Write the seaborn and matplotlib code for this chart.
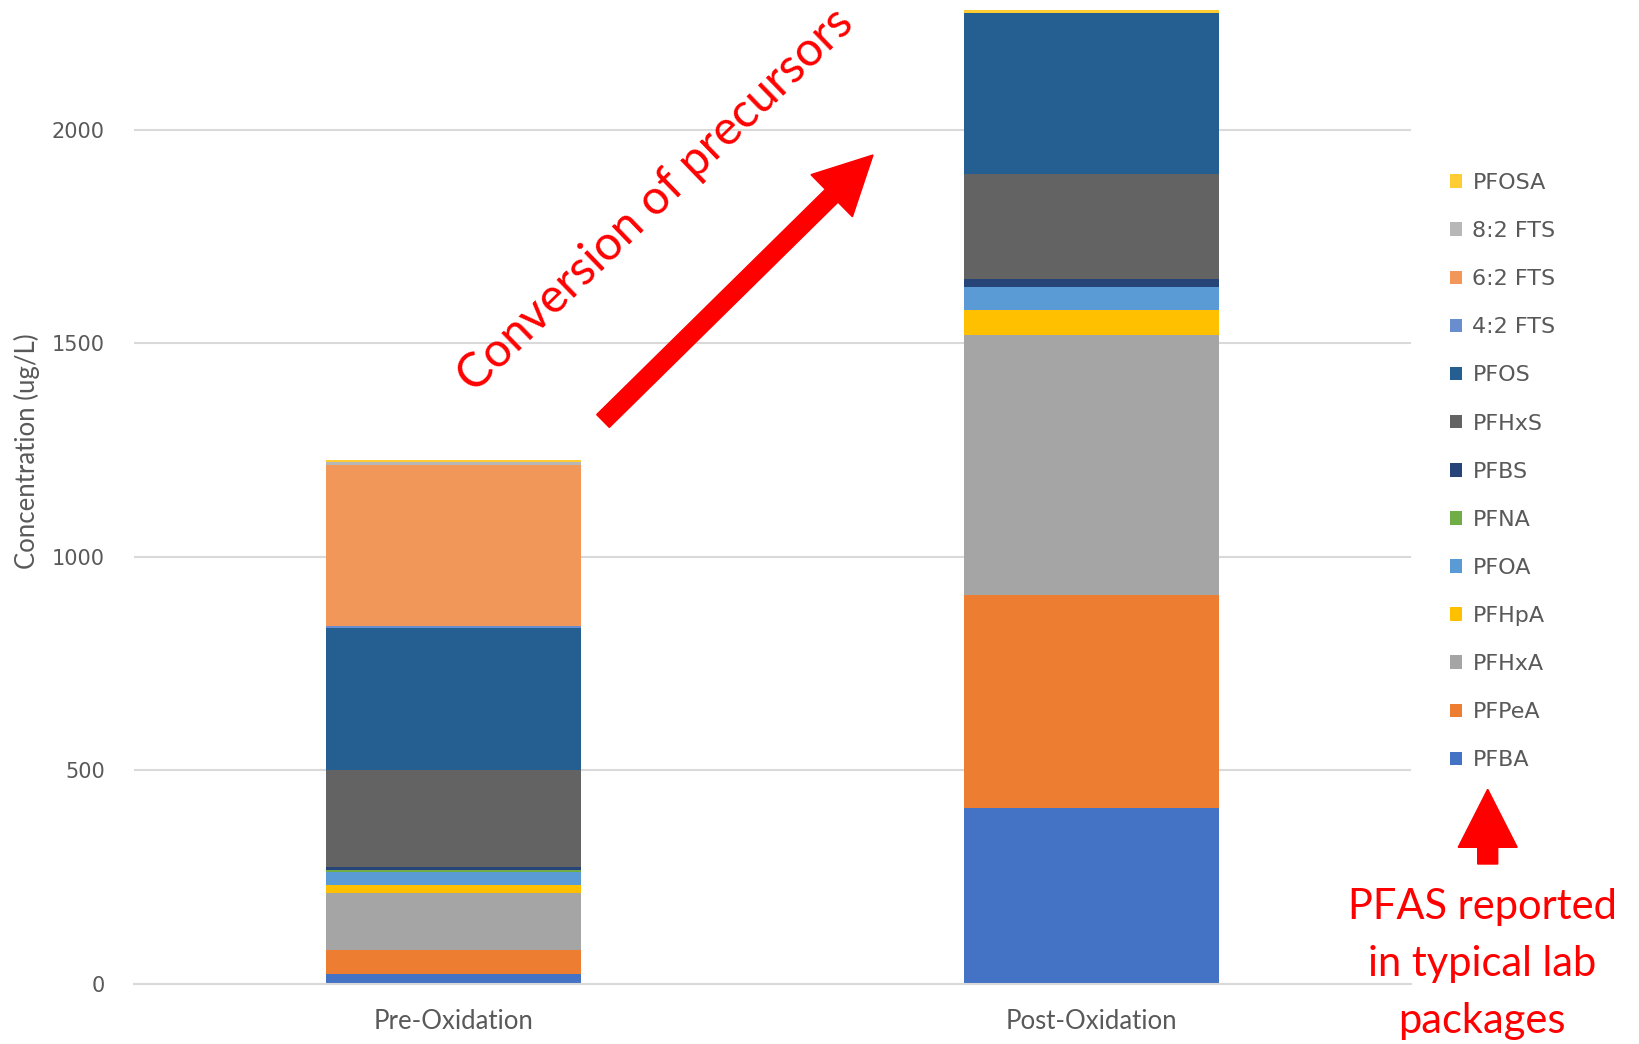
import numpy as np
import pandas as pd
import matplotlib
matplotlib.use("Agg")
import matplotlib.pyplot as plt
import seaborn as sns
from matplotlib.patches import FancyArrow, Patch
from matplotlib.transforms import IdentityTransform

# ---- data ----
samples = ["Pre-Oxidation", "Post-Oxidation"]
compounds = ["PFBA", "PFPeA", "PFHxA", "PFHpA", "PFOA", "PFNA", "PFBS",
             "PFHxS", "PFOS", "4:2 FTS", "6:2 FTS", "8:2 FTS", "PFOSA"]
pre_values = [23, 55, 133, 20, 31, 4, 6, 228, 333, 5, 377, 6, 5]
post_values = [411, 500, 607, 59, 54, 0, 18, 247, 377, 0, 0, 0, 6]
colors = ["#4472C4", "#ED7D31", "#A5A5A5", "#FFC000", "#5B9BD5", "#70AD47",
          "#264478", "#636363", "#255E91", "#698ED0", "#F1975A", "#B7B7B7",
          "#FFCD33"]
yticks = [0, 500, 1000, 1500, 2000]
ylabel = "Concentration (ug/L)"
arrow_text = "Conversion of precursors"
note_text = "PFAS reported\nin typical lab\npackages"

W, H = 1639, 1044
sns.set_theme(style="white")
fig = plt.figure(figsize=(W / 100, H / 100), dpi=100)
fig.patch.set_facecolor("white")

base_y = 983.6
ax = fig.add_axes([134 / W, (H - base_y) / H, 1277 / W, base_y / H])

df = pd.DataFrame({"sample": np.repeat(samples, len(compounds)),
                   "compound": compounds * 2,
                   "value": pre_values + post_values})
df["cum"] = df.groupby("sample", sort=False)["value"].cumsum()

# draw cumulative bars from top layer to bottom (overlapping => stacked look)
for comp, col in reversed(list(zip(compounds, colors))):
    sub = df[df["compound"] == comp]
    sns.barplot(data=sub, x="sample", y="cum", order=samples, color=col,
                saturation=1, width=0.4, errorbar=None, linewidth=0,
                ax=ax, zorder=2)

ax.set_xlim(-0.5, 1.5)
ax.set_ylim(0, base_y / 0.42703)
ax.set_yticks(yticks)
ax.set_yticklabels([str(t) for t in yticks])
ax.yaxis.grid(True, color="#D9D9D9", linewidth=1.5)
ax.set_axisbelow(True)
for s in ["top", "right", "left"]:
    ax.spines[s].set_visible(False)
ax.spines["bottom"].set_color("#D9D9D9")
ax.spines["bottom"].set_linewidth(1.5)
ax.tick_params(axis="both", length=0)
ax.tick_params(axis="y", pad=21, labelcolor="#595959", labelsize=15)
ax.tick_params(axis="x", pad=18, labelcolor="#595959", labelsize=18.5)
for lab in ax.get_xticklabels():
    lab.set_fontfamily("Lato")
for lab in ax.get_yticklabels():
    lab.set_fontfamily("DejaVu Sans")
ax.set_xlabel("")
ax.set_ylabel("")

fig.text(27 / W, (H - 451) / H, ylabel, rotation=90, ha="center", va="center",
         color="#595959", fontsize=18.5, family="Lato")

# legend (reverse order: top layer first)
handles = [Patch(facecolor=c, edgecolor="none") for c in reversed(colors)]
labels = list(reversed(compounds))
ax.legend(handles, labels, loc="upper left",
          bbox_to_anchor=(1450 / W, (H - 173) / H), bbox_transform=fig.transFigure,
          frameon=False, prop={"family": "DejaVu Sans", "size": 16},
          labelcolor="#595959", handlelength=0.56, handleheight=0.56,
          handletextpad=0.45, labelspacing=1.265, borderpad=0, borderaxespad=0)

# red annotations
arr1 = FancyArrow(603, H - 421, 270, 266, width=18, head_width=59,
                  head_length=58, length_includes_head=True, color="#FF0000",
                  transform=IdentityTransform())
fig.add_artist(arr1)
arr2 = FancyArrow(1487.7, H - 864, 0, 74.7, width=20, head_width=59,
                  head_length=58, length_includes_head=True, color="#FF0000",
                  transform=IdentityTransform())
fig.add_artist(arr2)

fig.text(655 / W, (H - 200) / H, arrow_text, rotation=44, rotation_mode="anchor",
         ha="center", va="center", color="#FF0000", fontsize=34.5, family="Lato")
fig.text(1482 / W, (H - 888) / H, note_text, ha="center", va="top",
         color="#FF0000", fontsize=30, family="Lato", linespacing=1.62)

fig.savefig("out.png", dpi=100, facecolor="white")
